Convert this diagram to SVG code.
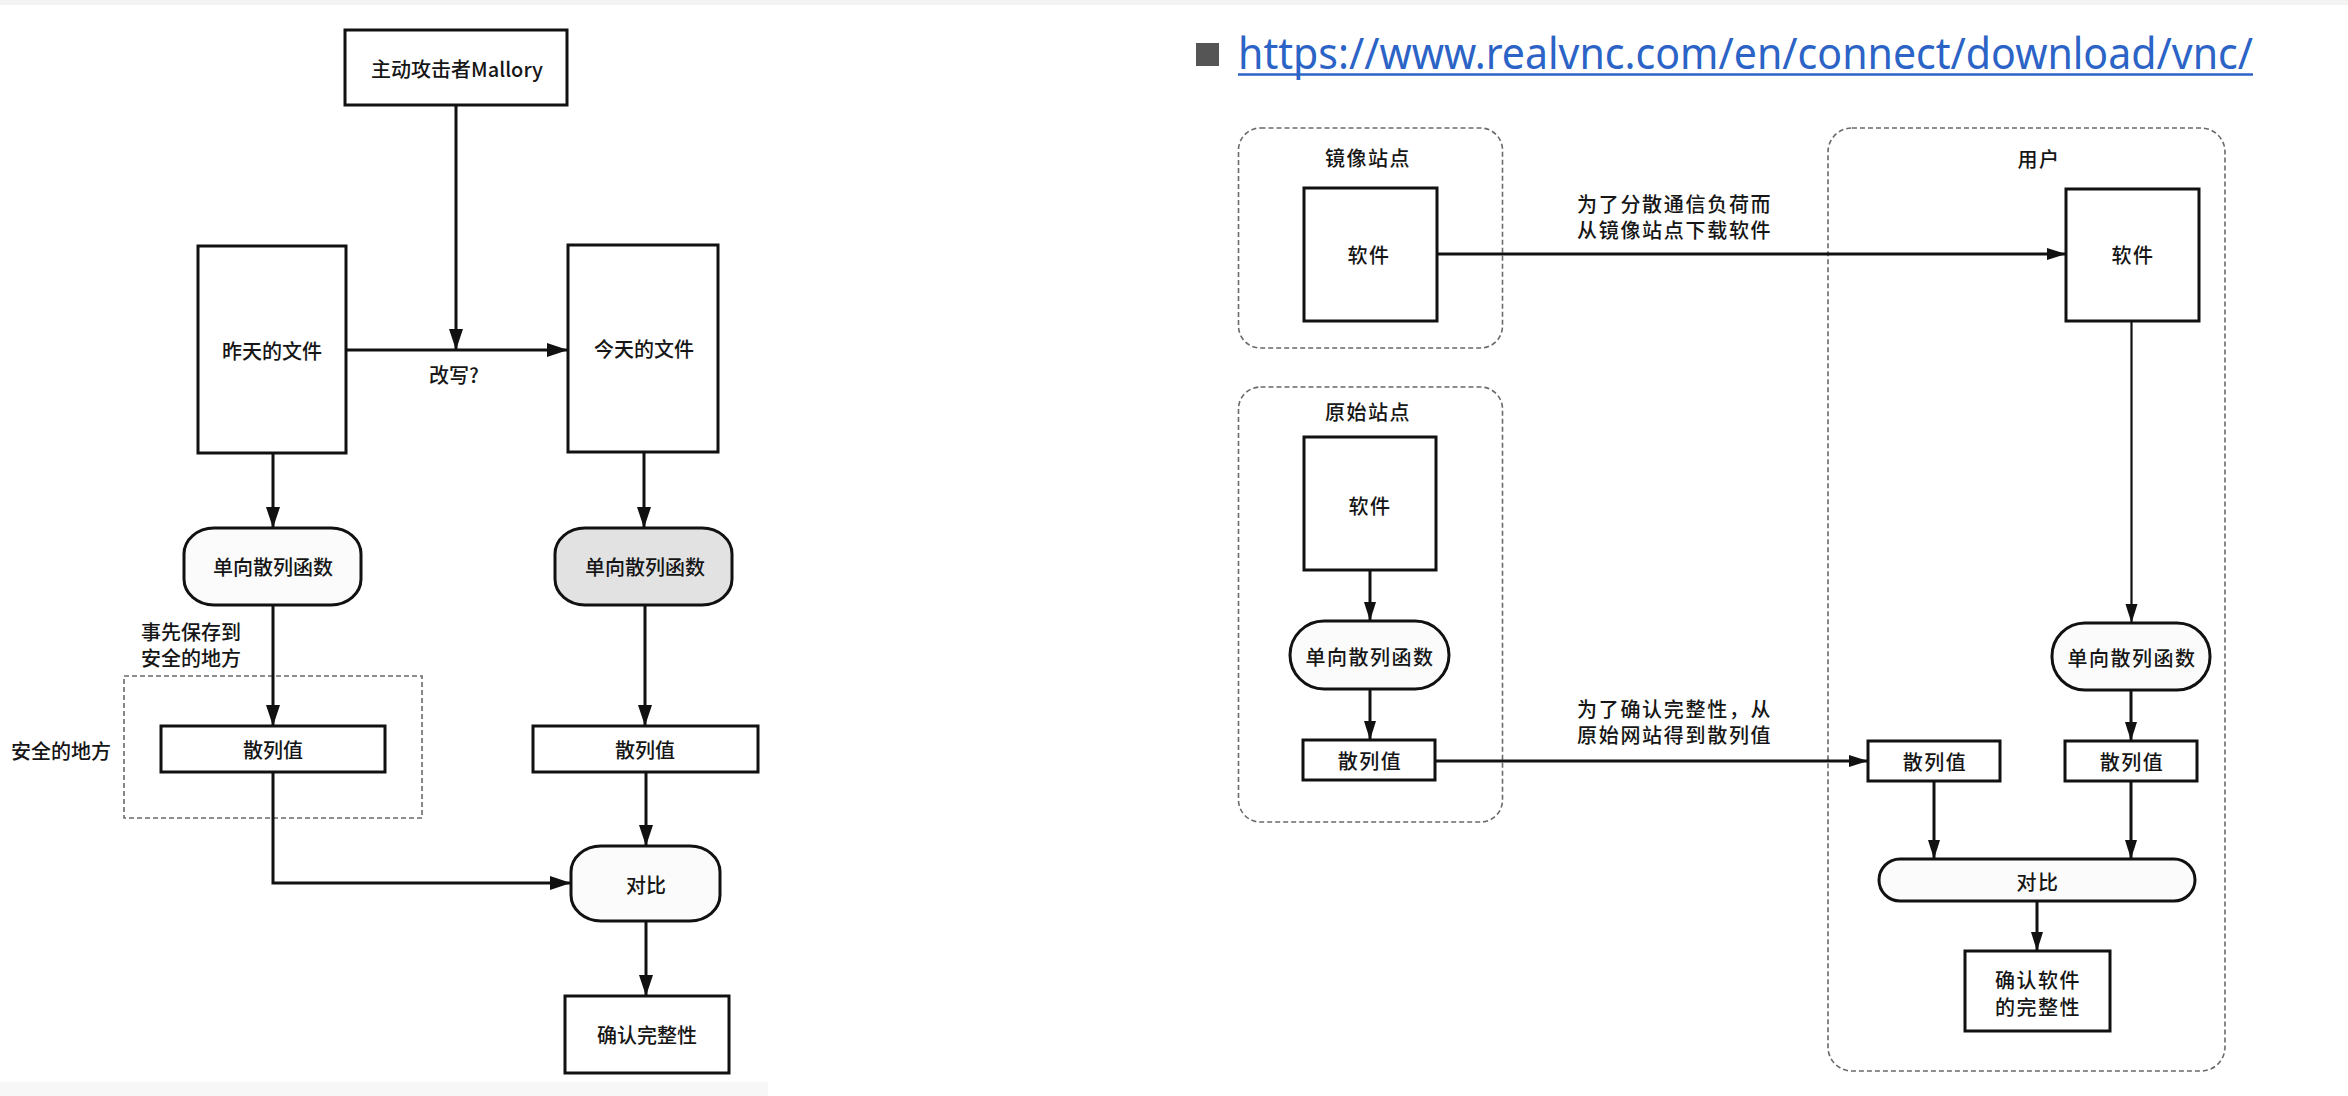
<svg xmlns="http://www.w3.org/2000/svg" width="2348" height="1096" viewBox="0 0 2348 1096">
  <style>
    .box { fill: #ffffff; stroke: #111111; stroke-width: 3; }
    .pill { fill: #fbfbfb; stroke: #111111; stroke-width: 3; }
    .pill-gray { fill: #e2e2e2; stroke: #111111; stroke-width: 3; }
    .zone { fill: none; stroke: #6a6a6a; stroke-width: 1.6; stroke-dasharray: 5 3; }
    .edge { fill: none; stroke: #111111; stroke-width: 3; }
    .edge-thin { fill: none; stroke: #111111; stroke-width: 2.2; }
    .t { font-family: "Noto Sans CJK SC", "Noto Sans", sans-serif; font-size: 20px; font-weight: 500; fill: #161616; text-anchor: middle; dominant-baseline: central; }
    .tl { font-family: "Noto Sans CJK SC", "Noto Sans", sans-serif; font-size: 20px; font-weight: 500; fill: #161616; text-anchor: start; dominant-baseline: central; }
    .tr { font-family: "Noto Sans CJK SC", "Noto Sans", sans-serif; font-size: 20px; font-weight: 500; fill: #161616; text-anchor: middle; dominant-baseline: central; letter-spacing: 1.5px; }
    .trl { font-family: "Noto Sans CJK SC", "Noto Sans", sans-serif; font-size: 20px; font-weight: 500; fill: #161616; text-anchor: start; dominant-baseline: central; letter-spacing: 1.7px; }
    .url { font-family: "Noto Sans", "Open Sans", sans-serif; font-size: 43px; fill: #2b63c6; }
  </style>
  <defs>
    <marker id="arrow" markerUnits="userSpaceOnUse" markerWidth="22" markerHeight="16" refX="21" refY="7" orient="auto">
      <path d="M0,0 L21,7 L0,14 Z" fill="#111111"/>
    </marker>
    <marker id="arrow-s" markerUnits="userSpaceOnUse" markerWidth="20" markerHeight="14" refX="19" refY="6" orient="auto">
      <path d="M0,0 L19,6 L0,12 Z" fill="#111111"/>
    </marker>
  </defs>

  <!-- page background -->
  <rect x="0" y="0" width="2348" height="1096" fill="#ffffff"/>
  <rect x="0" y="0" width="2348" height="5" fill="#f3f3f3"/>
  <rect x="0" y="1082" width="768" height="14" fill="#f7f7f7"/>

  <!-- ===== Left: tamper check with a stored hash ===== -->
  <g id="left-zones">
    <rect id="safe-place-zone" class="zone" x="124" y="676" width="298" height="142"/>
    <text class="tl" x="11" y="750">安全的地方</text>
  </g>

  <g id="left-edges">
    <line class="edge" x1="456" y1="105" x2="456" y2="350" marker-end="url(#arrow)"/>
    <line class="edge" x1="346" y1="350" x2="568" y2="350" marker-end="url(#arrow)"/>
    <text class="t" x="454" y="374">改写?</text>
    <line class="edge" x1="273" y1="453" x2="273" y2="528" marker-end="url(#arrow)"/>
    <line class="edge" x1="644" y1="452" x2="644" y2="528" marker-end="url(#arrow)"/>
    <line class="edge" x1="273" y1="605" x2="273" y2="726" marker-end="url(#arrow)"/>
    <text class="tl" x="141" y="631">事先保存到</text>
    <text class="tl" x="141" y="657">安全的地方</text>
    <line class="edge" x1="645" y1="605" x2="645" y2="726" marker-end="url(#arrow)"/>
    <polyline class="edge" points="273,772 273,883 571,883" marker-end="url(#arrow)"/>
    <line class="edge" x1="646" y1="772" x2="646" y2="846" marker-end="url(#arrow)"/>
    <line class="edge" x1="646" y1="921" x2="646" y2="996" marker-end="url(#arrow)"/>
  </g>

  <g id="mallory">
    <rect class="box" x="345" y="30" width="222" height="75"/>
    <text class="t" x="457" y="68">主动攻击者Mallory</text>
  </g>
  <g id="file-yesterday">
    <rect class="box" x="198" y="246" width="148" height="207"/>
    <text class="t" x="272" y="350">昨天的文件</text>
  </g>
  <g id="file-today">
    <rect class="box" x="568" y="245" width="150" height="207"/>
    <text class="t" x="644" y="348">今天的文件</text>
  </g>
  <g id="hash-fn-yesterday">
    <rect class="pill" x="184" y="528" width="177" height="77" rx="30" ry="26"/>
    <text class="t" x="273" y="566">单向散列函数</text>
  </g>
  <g id="hash-fn-today">
    <rect class="pill-gray" x="555" y="528" width="177" height="77" rx="30" ry="26"/>
    <text class="t" x="645" y="566">单向散列函数</text>
  </g>
  <g id="hash-stored">
    <rect class="box" x="161" y="726" width="224" height="46"/>
    <text class="t" x="273" y="749">散列值</text>
  </g>
  <g id="hash-today">
    <rect class="box" x="533" y="726" width="225" height="46"/>
    <text class="t" x="645" y="749">散列值</text>
  </g>
  <g id="compare-left">
    <rect class="pill" x="571" y="846" width="149" height="75" rx="30" ry="26"/>
    <text class="t" x="646" y="884">对比</text>
  </g>
  <g id="integrity-left">
    <rect class="box" x="565" y="996" width="164" height="77"/>
    <text class="t" x="647" y="1034">确认完整性</text>
  </g>

  <!-- ===== Right: download link and mirror check ===== -->
  <g id="link">
    <rect x="1196" y="43" width="23" height="23" fill="#555555"/>
    <text class="url" x="1238" y="69" textLength="1015" lengthAdjust="spacingAndGlyphs">https://www.realvnc.com/en/connect/download/vnc/</text>
    <line x1="1238" y1="74.5" x2="2253" y2="74.5" stroke="#2b63c6" stroke-width="2.5"/>
  </g>

  <g id="mirror-site">
    <rect class="zone" x="1238.5" y="128" width="264" height="220" rx="22"/>
    <text class="tr" x="1368" y="157">镜像站点</text>
  </g>
  <g id="origin-site">
    <rect class="zone" x="1238.5" y="387" width="264" height="435" rx="22"/>
    <text class="tr" x="1368" y="411">原始站点</text>
  </g>
  <g id="user">
    <rect class="zone" x="1828" y="128" width="397" height="943" rx="24"/>
    <text class="tr" x="2039" y="158">用户</text>
  </g>

  <g id="right-edges">
    <line class="edge" x1="1437" y1="254" x2="2066" y2="254" marker-end="url(#arrow-s)"/>
    <text class="trl" x="1577" y="203">为了分散通信负荷而</text>
    <text class="trl" x="1577" y="229">从镜像站点下载软件</text>
    <line class="edge" x1="1370" y1="570" x2="1370" y2="621" marker-end="url(#arrow-s)"/>
    <line class="edge" x1="1370" y1="689" x2="1370" y2="740" marker-end="url(#arrow-s)"/>
    <line class="edge" x1="1435" y1="761" x2="1868" y2="761" marker-end="url(#arrow-s)"/>
    <text class="trl" x="1577" y="708">为了确认完整性，从</text>
    <text class="trl" x="1577" y="734">原始网站得到散列值</text>
    <line class="edge-thin" x1="2131.5" y1="321" x2="2131.5" y2="623" marker-end="url(#arrow-s)"/>
    <line class="edge" x1="2131" y1="690" x2="2131" y2="741" marker-end="url(#arrow-s)"/>
    <line class="edge" x1="1934" y1="781" x2="1934" y2="859" marker-end="url(#arrow-s)"/>
    <line class="edge" x1="2131" y1="781" x2="2131" y2="859" marker-end="url(#arrow-s)"/>
    <line class="edge" x1="2037" y1="901" x2="2037" y2="951" marker-end="url(#arrow-s)"/>
  </g>

  <g id="mirror-software">
    <rect class="box" x="1304" y="188" width="133" height="133"/>
    <text class="tr" x="1369" y="254">软件</text>
  </g>
  <g id="user-software">
    <rect class="box" x="2066" y="189" width="133" height="132"/>
    <text class="tr" x="2133" y="254">软件</text>
  </g>
  <g id="origin-software">
    <rect class="box" x="1304" y="437" width="132" height="133"/>
    <text class="tr" x="1370" y="505">软件</text>
  </g>
  <g id="origin-hash-fn">
    <rect class="pill" x="1290" y="621" width="159" height="68" rx="34"/>
    <text class="tr" x="1370" y="656">单向散列函数</text>
  </g>
  <g id="origin-hash">
    <rect class="box" x="1303" y="740" width="132" height="40"/>
    <text class="tr" x="1370" y="760">散列值</text>
  </g>
  <g id="user-hash-fn">
    <rect class="pill" x="2052" y="623" width="158" height="67" rx="33"/>
    <text class="tr" x="2132" y="657">单向散列函数</text>
  </g>
  <g id="user-hash-received">
    <rect class="box" x="1868" y="741" width="132" height="40"/>
    <text class="tr" x="1935" y="761">散列值</text>
  </g>
  <g id="user-hash-computed">
    <rect class="box" x="2065" y="741" width="132" height="40"/>
    <text class="tr" x="2132" y="761">散列值</text>
  </g>
  <g id="compare-right">
    <rect class="pill" x="1879" y="859" width="316" height="42" rx="21"/>
    <text class="tr" x="2038" y="881">对比</text>
  </g>
  <g id="integrity-right">
    <rect class="box" x="1965" y="951" width="145" height="80"/>
    <text class="tr" x="2038" y="979">确认软件</text>
    <text class="tr" x="2038" y="1006">的完整性</text>
  </g>
</svg>
